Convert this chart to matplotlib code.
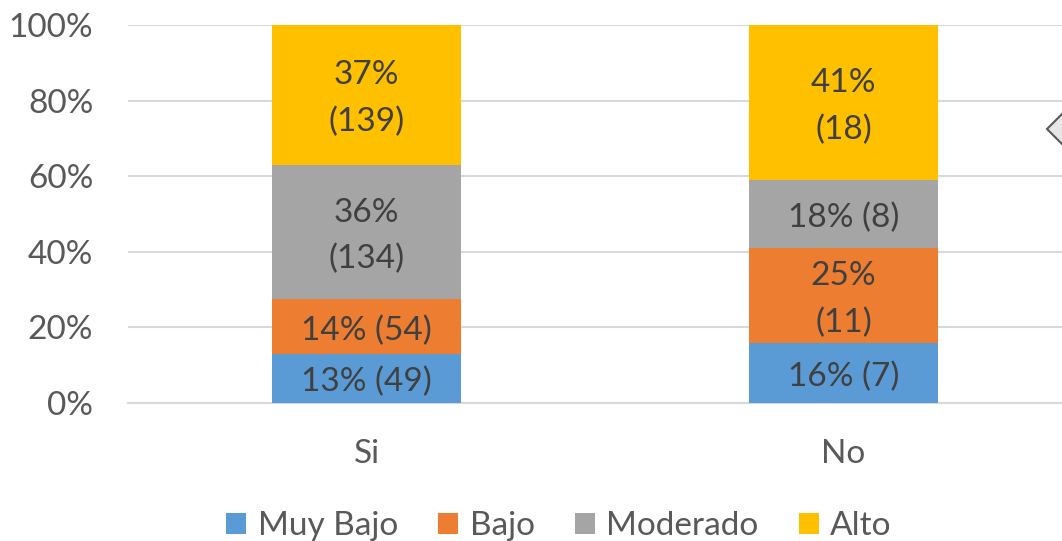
import matplotlib
matplotlib.use("Agg")
import matplotlib.pyplot as plt
import matplotlib.transforms as mtransforms
from matplotlib.patches import Polygon, Patch
import numpy as np

plt.rcParams['font.family'] = ['Lato', 'DejaVu Sans']

categories = ["Si", "No"]
series_names = ["Muy Bajo", "Bajo", "Moderado", "Alto"]
counts = {
    "Muy Bajo": [49, 7],
    "Bajo": [54, 11],
    "Moderado": [134, 8],
    "Alto": [139, 18],
}
labels = {
    "Muy Bajo": ["13% (49)", "16% (7)"],
    "Bajo": ["14% (54)", "25%\n(11)"],
    "Moderado": ["36%\n(134)", "18% (8)"],
    "Alto": ["37%\n(139)", "41%\n(18)"],
}
colors = ["#5B9BD5", "#ED7D31", "#A5A5A5", "#FFC000"]
yticks = [0, 20, 40, 60, 80, 100]
ytick_labels = ["0%", "20%", "40%", "60%", "80%", "100%"]

W, H = 1062, 541
fig = plt.figure(figsize=(W / 100, H / 100), dpi=100)
ax = fig.add_axes([128 / W, 1 - 403 / H, 954 / W, 378 / H])

label_tr = ax.transData + mtransforms.ScaledTranslation(0, -4 / 100, fig.dpi_scale_trans)

totals = np.sum([counts[s] for s in series_names], axis=0)
x = np.arange(len(categories))
bottom = np.zeros(len(categories))
for name, col in zip(series_names, colors):
    pct = np.array(counts[name]) / totals * 100
    ax.bar(x, pct, bottom=bottom, width=0.396, color=col, zorder=3)
    for i in range(len(categories)):
        ax.text(x[i], bottom[i] + pct[i] / 2, labels[name][i], ha="center", va="center",
                fontsize=24, color="#404040", linespacing=1.68, zorder=4,
                transform=label_tr)
    bottom += pct

ax.set_xlim(-0.5, 1.5)
ax.set_ylim(0, 100)
ax.set_yticks(yticks)
ax.set_yticklabels(ytick_labels)
ax.set_xticks(x)
ax.set_xticklabels(categories)
ax.tick_params(axis="y", length=0, pad=25, labelsize=24, labelcolor="#595959")
ax.tick_params(axis="x", length=0, pad=26, labelsize=24, labelcolor="#595959")
ax.grid(axis="y", color="#D9D9D9", linewidth=1.5, zorder=0)
for sp in ax.spines.values():
    sp.set_visible(False)
ax.spines["bottom"].set_visible(True)
ax.spines["bottom"].set_color("#D9D9D9")
ax.spines["bottom"].set_linewidth(1.5)

handles = [Patch(facecolor=c, edgecolor="none") for c in colors]
fig.legend(handles, series_names, loc="center", bbox_to_anchor=(559 / W, 1 - 526 / H),
           ncol=4, frameon=False, fontsize=24, labelcolor="#595959",
           handlelength=0.6, handleheight=0.6, handletextpad=0.35, columnspacing=1.2)

# partial diamond handle at right edge
cx, cy, r = 1064, 129, 17
shadow = Polygon([((cx - r + 3) / W, 1 - (cy + 3) / H), ((cx + 3) / W, 1 - (cy - r + 3) / H),
                  ((cx + r + 3) / W, 1 - (cy + 3) / H), ((cx + 3) / W, 1 - (cy + r + 3) / H)],
                 closed=True, transform=fig.transFigure, facecolor="#C8C8C8", edgecolor="none")
dia = Polygon([((cx - r) / W, 1 - cy / H), (cx / W, 1 - (cy - r) / H),
               ((cx + r) / W, 1 - cy / H), (cx / W, 1 - (cy + r) / H)],
              closed=True, transform=fig.transFigure, facecolor="#E6E6E6", edgecolor="#595959",
              linewidth=1.5)
fig.patches.append(shadow)
fig.patches.append(dia)

fig.savefig("out.png", dpi=100)
